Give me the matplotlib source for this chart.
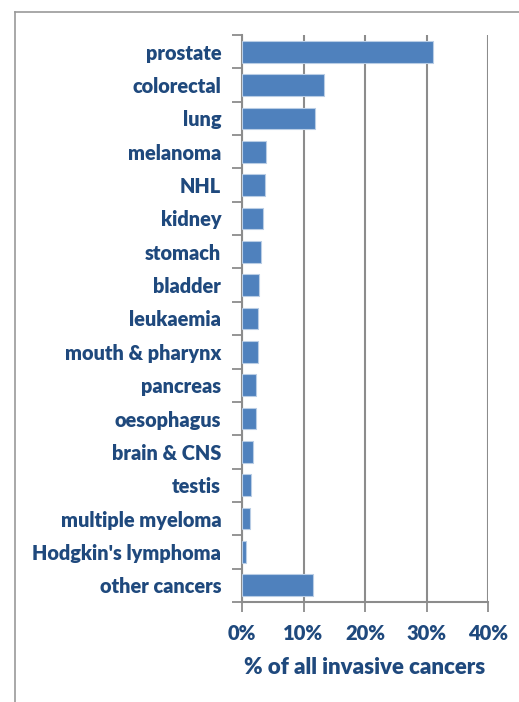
import matplotlib.pyplot as plt
import matplotlib.lines as mlines
import numpy as np

categories = ["prostate", "colorectal", "lung", "melanoma", "NHL", "kidney",
              "stomach", "bladder", "leukaemia", "mouth & pharynx", "pancreas",
              "oesophagus", "brain & CNS", "testis", "multiple myeloma",
              "Hodgkin's lymphoma", "other cancers"]
percent = [31.1, 13.3, 11.8, 3.85, 3.7, 3.4, 3.1, 2.8, 2.6, 2.55, 2.3, 2.2,
           1.85, 1.5, 1.35, 0.65, 11.6]
xticks = [0, 10, 20, 30, 40]

text_color = "#1F497D"
grid_color = "#8C8C8C"
font = "Lato"

fig = plt.figure(figsize=(5.19, 7.02), dpi=100)
ax = fig.add_axes([242 / 519, 1 - 602 / 702, 246 / 519, 567 / 702])

n = len(categories)
y = np.arange(n)
ax.barh(y, percent, height=0.65, color="#4F81BD", edgecolor="#B9CDE5",
        linewidth=0.8, zorder=3)
ax.set_ylim(n - 0.5, -0.5)
ax.set_xlim(0, 40)

ax.set_yticks(y)
ax.set_yticklabels(categories)
ax.set_yticks(np.arange(n + 1) - 0.5, minor=True)
ax.tick_params(axis="y", which="major", length=0, pad=15)
ax.tick_params(axis="y", which="minor", length=7, width=1.3, color=grid_color)

ax.set_xticks(xticks)
ax.set_xticklabels([f"{v}%" for v in xticks])
ax.tick_params(axis="x", length=7, width=1.3, color=grid_color, pad=9)
ax.grid(axis="x", color=grid_color, linewidth=1.5, zorder=0)

for lab in ax.get_yticklabels():
    lab.set_fontfamily(font)
    lab.set_fontweight("heavy")
    lab.set_fontsize(14.3)
    lab.set_color(text_color)
for lab in ax.get_xticklabels():
    lab.set_fontfamily(font)
    lab.set_fontweight("heavy")
    lab.set_fontsize(14.5)
    lab.set_color(text_color)

ax.set_xlabel("% of all invasive cancers", fontfamily=font, fontweight="heavy",
              fontsize=16, color=text_color, labelpad=10)

for s in ["top", "right"]:
    ax.spines[s].set_visible(False)
for s in ["left", "bottom"]:
    ax.spines[s].set_color(grid_color)
    ax.spines[s].set_linewidth(1.5)

# outer chart frame (clipped at right and bottom)
fig.add_artist(mlines.Line2D([15 / 519, 15 / 519], [0, 1 - 12 / 702],
                             color="#999999", linewidth=1.2))
fig.add_artist(mlines.Line2D([15 / 519, 1], [1 - 12 / 702, 1 - 12 / 702],
                             color="#999999", linewidth=1.2))

fig.savefig("out.png", dpi=100)
